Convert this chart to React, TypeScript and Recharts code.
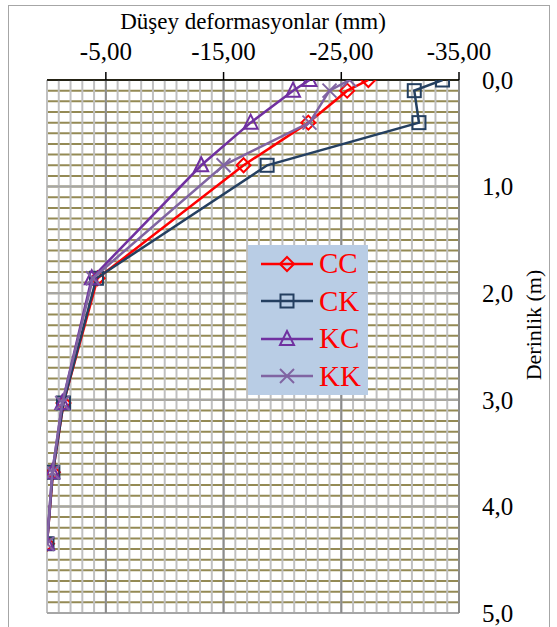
import React from "react";
import { ScatterChart, Scatter, XAxis, YAxis, ReferenceLine } from "recharts";

// depth (m) of each measuring point, top to bottom
const depths = [0, 0.1, 0.4, 0.8, 1.86, 3.03, 3.68, 4.35];

// vertical deformation (mm) per series
const ccValues = [-27.3, -25.5, -22.2, -16.7, -4.3, -1.4, -0.5, 0];
const ckValues = [-33.6, -31.2, -31.6, -18.7, -4.2, -1.4, -0.5, 0];
const kcValues = [-22.3, -20.9, -17.3, -13.1, -3.8, -1.3, -0.45, 0];
const kkValues = [-25.7, -24.0, -22.3, -15.0, -3.9, -1.3, -0.45, 0];

const seriesNames = ["CC", "CK", "KC", "KK"];
const xTicks = [-35, -25, -15, -5];
const yTicks = [0, 1, 2, 3, 4, 5];

const FONT = "'Liberation Serif', 'Times New Roman', serif";

const colors: Record<string, string> = {
  CC: "#ff0000",
  CK: "#243f60",
  KC: "#7030a0",
  KK: "#8064a2",
};

// grid helpers
const minorX = Array.from({ length: 36 }, (_, i) => -i);
const majorX = [-5, -15, -25, -35];
const minorY = Array.from({ length: 51 }, (_, i) => Math.round(i * 10) / 100);
const majorY = [1, 2, 3, 4, 5];

const toPoints = (vals: number[]) => vals.map((x, i) => ({ x, y: depths[i] }));

const seriesData: Record<string, { x: number; y: number }[]> = {
  CC: toPoints(ccValues),
  CK: toPoints(ckValues),
  KC: toPoints(kcValues),
  KK: toPoints(kkValues),
};

function Marker({ name, cx, cy }: { name: string; cx: number; cy: number }) {
  const c = colors[name];
  const s = 7;
  if (name === "CC") {
    return (
      <polygon
        points={`${cx},${cy - s} ${cx + s},${cy} ${cx},${cy + s} ${cx - s},${cy}`}
        fill="none"
        stroke={c}
        strokeWidth={2}
      />
    );
  }
  if (name === "CK") {
    return <rect x={cx - 6.5} y={cy - 6.5} width={13} height={13} fill="none" stroke={c} strokeWidth={2} />;
  }
  if (name === "KC") {
    return (
      <polygon
        points={`${cx},${cy - 8} ${cx + 7},${cy + 6} ${cx - 7},${cy + 6}`}
        fill="none"
        stroke={c}
        strokeWidth={2}
      />
    );
  }
  return (
    <g stroke={c} strokeWidth={2}>
      <line x1={cx - s} y1={cy - s} x2={cx + s} y2={cy + s} />
      <line x1={cx - s} y1={cy + s} x2={cx + s} y2={cy - s} />
    </g>
  );
}

function LegendBox() {
  return (
    <div
      style={{
        position: "absolute",
        left: 248,
        top: 245,
        background: "#b9cde5",
        width: 120,
        height: 150,
        boxSizing: "border-box",
        paddingTop: 0,
      }}
    >
      {seriesNames.map((n) => (
        <div key={n} style={{ display: "flex", alignItems: "center", height: 37.5 }}>
          <svg width={60} height={20} style={{ marginLeft: 11 }}>
            <line x1={2} y1={10} x2={54} y2={10} stroke={colors[n]} strokeWidth={2.5} />
            <Marker name={n} cx={28} cy={10} />
          </svg>
          <span style={{ fontFamily: FONT, fontSize: 29, color: "#ff0000", lineHeight: 1 }}>{n}</span>
        </div>
      ))}
    </div>
  );
}

const fmtX = (v: number) => v.toFixed(2).replace(".", ",");
const fmtY = (v: number) => v.toFixed(1).replace(".", ",");

export default function App() {
  return (
    <div style={{ position: "absolute", left: 0, top: 0, width: 557, height: 627, overflow: "hidden", background: "#fff" }}>
      <div
        style={{
          position: "absolute",
          left: 8,
          top: 5,
          width: 540,
          height: 660,
          border: "1px solid #a6a6a6",
        }}
      />
      <div
        style={{
          position: "absolute",
          left: 53,
          width: 400,
          top: 8,
          textAlign: "center",
          fontFamily: FONT,
          fontSize: 23,
          lineHeight: "28px",
        }}
      >
        Düşey deformasyonlar (mm)
      </div>
      <div style={{ position: "absolute", left: 534, top: 325, width: 0, height: 0 }}>
        <div
          style={{
            position: "absolute",
            transform: "translate(-50%, -50%) rotate(-90deg)",
            whiteSpace: "nowrap",
            fontFamily: FONT,
            fontSize: 22,
          }}
        >
          Derinlik (m)
        </div>
      </div>
      <div style={{ position: "absolute", left: 0, top: 0 }}>
        <ScatterChart width={557} height={627} margin={{ top: 40, left: 47, right: 38, bottom: 14 }}>
          <XAxis
            type="number"
            dataKey="x"
            orientation="top"
            domain={[-35, 0]}
            reversed
            ticks={xTicks}
            tickFormatter={fmtX}
            height={40}
            axisLine={{ stroke: "#000", strokeWidth: 1.5 }}
            tickLine={{ stroke: "#000", strokeWidth: 1.5 }}
            tickSize={8}
            tickMargin={12}
            tick={{ fill: "#000", fontSize: 25, fontFamily: FONT }}
            allowDataOverflow
          />
          <YAxis
            type="number"
            dataKey="y"
            orientation="right"
            domain={[0, 5]}
            reversed
            ticks={yTicks}
            tickFormatter={fmtY}
            width={60}
            axisLine={false}
            tickLine={false}
            tickSize={6}
            tickMargin={17}
            tick={{ fill: "#000", fontSize: 25, fontFamily: FONT }}
            allowDataOverflow
          />
          <YAxis
            yAxisId="l"
            type="number"
            orientation="left"
            domain={[0, 5]}
            reversed
            ticks={yTicks}
            width={0}
            mirror
            tick={false}
            tickSize={8}
            axisLine={{ stroke: "#000", strokeWidth: 1.5 }}
            tickLine={{ stroke: "#000", strokeWidth: 1.5 }}
          />
          {minorY.map((v) => (
            <ReferenceLine key={"hy" + v} y={v} stroke="#948a54" strokeWidth={2} />
          ))}
          {minorX.map((v) => (
            <ReferenceLine key={"vx" + v} x={v} stroke="#c0c0c0" strokeWidth={2} />
          ))}
          {majorY.map((v) => (
            <ReferenceLine key={"my" + v} y={v} stroke="#a6a6a6" strokeWidth={2} />
          ))}
          {majorX.map((v) => (
            <ReferenceLine key={"mx" + v} x={v} stroke="#8c8c8c" strokeWidth={2} />
          ))}
          {seriesNames.map((n) => (
            <Scatter
              key={n}
              name={n}
              data={seriesData[n]}
              line={{ stroke: colors[n], strokeWidth: 2.5 }}
              lineType="joint"
              shape={(p: any) => <Marker name={n} cx={p.cx} cy={p.cy} />}
              isAnimationActive={false}
            />
          ))}
        </ScatterChart>
      </div>
      <LegendBox />
    </div>
  );
}
